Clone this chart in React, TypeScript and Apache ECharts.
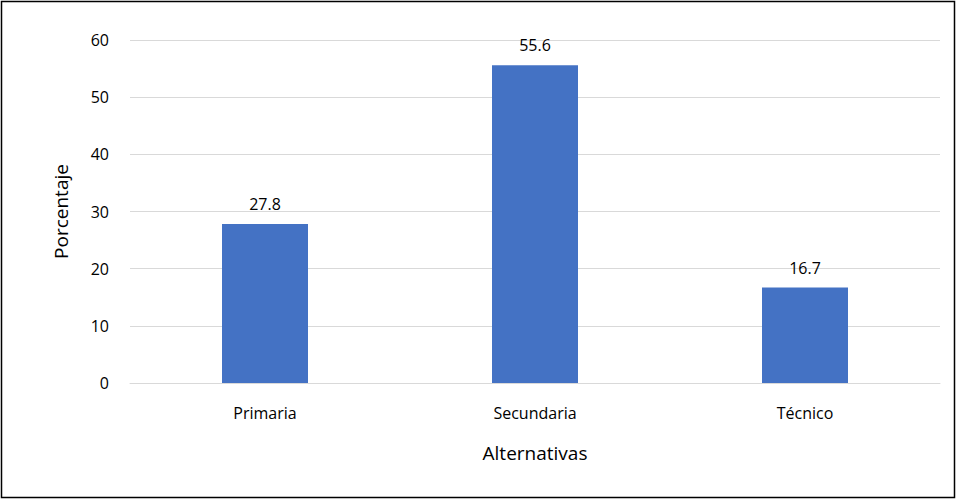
import { useEffect, useRef } from 'react';
import * as echarts from 'echarts';

const categories = ['Primaria', 'Secundaria', 'Técnico'];
const values = [27.8, 55.6, 16.7];

export default function App() {
  const ref = useRef<HTMLDivElement>(null);

  useEffect(() => {
    if (!ref.current) return;
    const chart = echarts.init(ref.current, undefined, { renderer: 'svg' });
    const font = "'Open Sans', 'Noto Sans', sans-serif";
    chart.setOption({
      animation: false,
      textStyle: { fontFamily: font },
      graphic: [{
        type: 'rect', shape: { x: 1.5, y: 1.5, width: 953, height: 496 },
        style: { fill: 'none', stroke: '#000', lineWidth: 1.5 },
      }],
      grid: { left: 130, right: 16, top: 40, bottom: 116 },
      xAxis: {
        type: 'category', data: categories,
        name: 'Alternativas', nameLocation: 'middle', nameGap: 60,
        nameTextStyle: { fontSize: 19, color: '#000', fontFamily: font },
        axisTick: { show: false },
        axisLine: { lineStyle: { color: '#d9d9d9' } },
        axisLabel: { fontSize: 16, color: '#000', margin: 22 },
      },
      yAxis: {
        type: 'value', min: 0, max: 60, interval: 10,
        name: 'Porcentaje', nameLocation: 'middle', nameGap: 60,
        nameTextStyle: { fontSize: 19, color: '#000', fontFamily: font },
        axisLabel: { fontSize: 16, color: '#000', margin: 21 },
        splitLine: { lineStyle: { color: '#d9d9d9' } },
      },
      series: [{
        type: 'bar', data: values, barWidth: 86,
        itemStyle: { color: '#4472c4' },
        label: { show: true, position: 'top', fontSize: 16, color: '#000', distance: 12 },
      }],
    });
    return () => chart.dispose();
  }, []);

  return <div ref={ref} style={{ position: 'fixed', left: 0, top: 0, width: 956, height: 499, background: '#fff' }} />;
}
